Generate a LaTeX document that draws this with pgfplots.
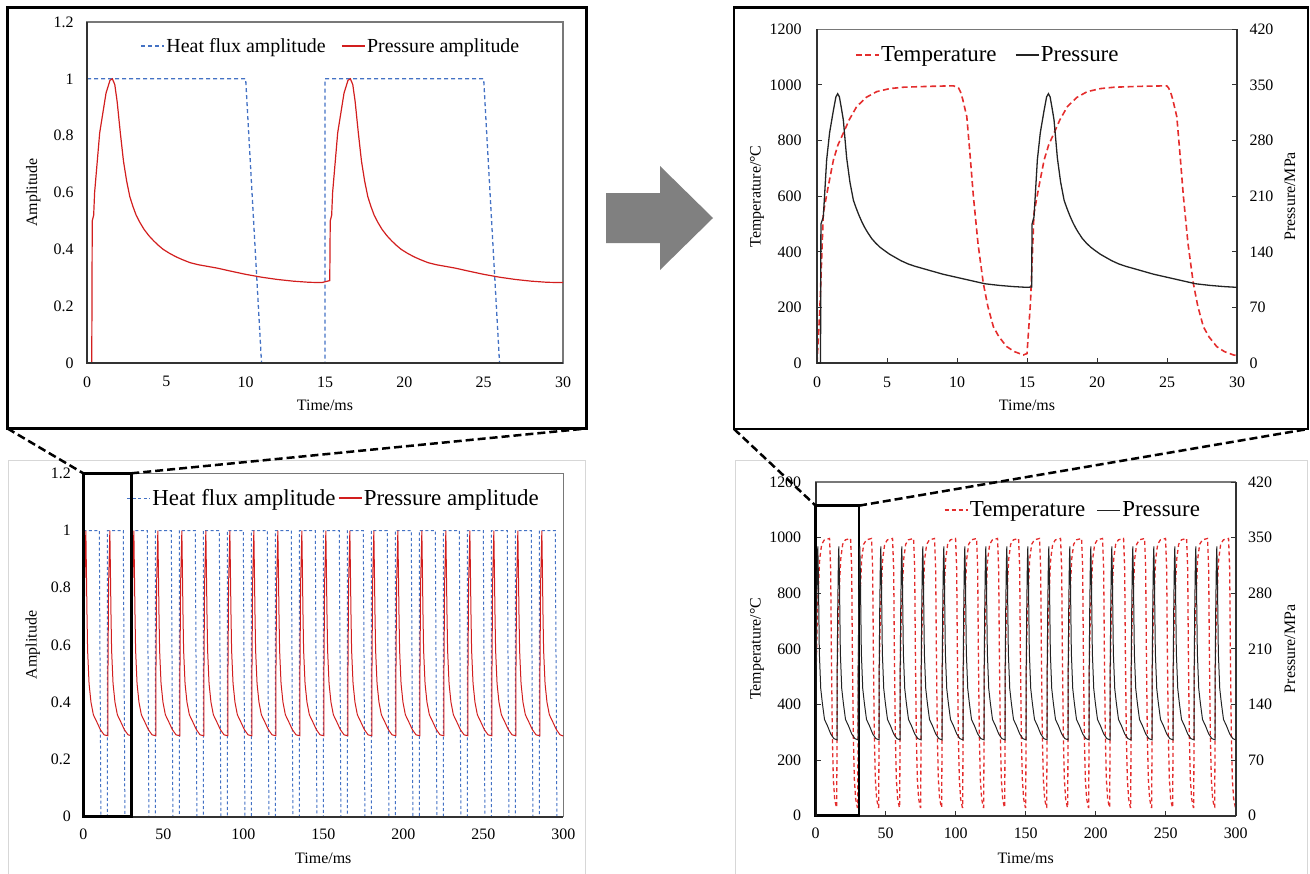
\documentclass[border=0pt]{standalone}
\usepackage{pgfplots}
\pgfplotsset{compat=1.18}
\usepackage{fontspec}
\setmainfont{Liberation Serif}
\definecolor{hfblue}{RGB}{68,114,196}
\definecolor{pred}{RGB}{210,30,30}
\definecolor{tred}{RGB}{228,45,45}
\definecolor{pblack}{RGB}{35,35,35}
\definecolor{framegray}{RGB}{120,120,120}
\definecolor{darkframe}{RGB}{50,50,50}
\definecolor{arrowgray}{RGB}{128,128,128}
\definecolor{panelgray}{RGB}{215,215,215}
\pgfplotsset{
  panel/.style={
    scale only axis,
    anchor=south west,
    clip=false,
    /pgf/number format/assume math mode=true,
    /pgf/number format/1000 sep={},
    tick label style={font=\fontsize{16}{19}\selectfont, text=black},
    label style={font=\fontsize{16}{19}\selectfont},
    axis line style={framegray, line width=1.5bp},
    legend cell align=left,
    legend image code/.code={\draw[##1] (0bp,0bp) -- (23bp,0bp);},
  },
}
\begin{document}
\begin{tikzpicture}
\useasboundingbox (0,0) rectangle (1310bp,-874bp);
% panel frames
\draw[panelgray, line width=1bp] (8.5bp,-460.5bp) rectangle (585bp,-885bp);
\draw[panelgray, line width=1bp] (735.5bp,-460.5bp) rectangle (1307.5bp,-885bp);
\draw[black, line width=2.5bp] (7.5bp,-7.5bp) rectangle (586.5bp,-428.5bp);
\draw[black, line width=2.5bp] (734bp,-7.5bp) rectangle (1308bp,-429bp);
% arrow
\fill[arrowgray] (606bp,-193bp) -- (660bp,-193bp) -- (660bp,-166bp) -- (713bp,-218bp) -- (660bp,-270bp) -- (660bp,-243bp) -- (606bp,-243bp) -- cycle;

%================ top left ================
\begin{axis}[panel, at={(87bp,-363bp)}, width=476bp, height=341bp,
  xmin=0, xmax=30, ymin=0, ymax=1.2,
  xtick={0,5,10,15,20,25,30}, ytick={0,0.2,0.4,0.6,0.8,1,1.2},
  major tick length=0pt,
  xticklabel style={yshift=-10bp}, yticklabel style={xshift=-10bp},
  xlabel={Time/ms}, ylabel={Amplitude},
  xlabel style={at={(axis description cs:0.5,-0.123)}, anchor=center},
  ylabel style={at={(axis description cs:-0.113,0.5)}, anchor=center},
  legend style={draw=none, fill=none, legend columns=2, at={(0.106,0.93)}, anchor=west,
    font=\fontsize{20}{24}\selectfont, nodes={inner sep=1.5bp},
    /tikz/every even column/.append style={column sep=14bp}},
]
\addlegendimage{hfblue, line width=1.3bp, dash pattern=on 4bp off 3bp}
\addlegendentry{Heat flux amplitude}
\addlegendimage{pred, line width=1.3bp}
\addlegendentry{Pressure amplitude}
\addplot[forget plot, hfblue, line width=1.3bp, dash pattern=on 4bp off 3bp] coordinates {
(0,1) (10,1) (11,0) (15,0) (15,1) (25,1) (26,0) (30,0)};
\addplot[forget plot, pred, line width=1.2bp] coordinates {
(0,0) (0.3,0) (0.33,0.5) (0.42,0.52) (0.48,0.6) (0.8,0.81) (1.2,0.95) (1.45,0.995) (1.6,1.0) (1.75,0.98) (1.9,0.92) (2.1,0.81) (2.3,0.71) (2.5,0.64) (2.7,0.585) (2.9,0.55) (3.1,0.52) (3.35,0.493) (3.6,0.47) (3.9,0.448) (4.2,0.43) (4.5,0.414) (4.8,0.40) (5.2,0.386) (5.6,0.374) (6.0,0.364) (6.5,0.353) (7.0,0.346) (7.6,0.34) (8.2,0.334) (9.0,0.324) (10.0,0.312) (11.0,0.302) (12.0,0.294) (13.0,0.288) (14.0,0.284) (14.8,0.283)
(15.3,0.29) (15.33,0.5) (15.42,0.52) (15.48,0.6) (15.8,0.81) (16.2,0.95) (16.45,0.995) (16.6,1.0) (16.75,0.98) (16.9,0.92) (17.1,0.81) (17.3,0.71) (17.5,0.64) (17.7,0.585) (17.9,0.55) (18.1,0.52) (18.35,0.493) (18.6,0.47) (18.9,0.448) (19.2,0.43) (19.5,0.414) (19.8,0.40) (20.2,0.386) (20.6,0.374) (21.0,0.364) (21.5,0.353) (22.0,0.346) (22.6,0.34) (23.2,0.334) (24.0,0.324) (25.0,0.312) (26.0,0.302) (27.0,0.294) (28.0,0.288) (29.0,0.284) (30,0.283)};
\draw[darkframe, line width=2bp] (rel axis cs:0,1) -- (rel axis cs:0,0) -- (rel axis cs:1,0);
\end{axis}

%================ top right ================
\begin{axis}[panel, at={(817bp,-363.3bp)}, width=420bp, height=334bp,
  xmin=0, xmax=30, ymin=0, ymax=1200,
  xtick={0,5,10,15,20,25,30}, ytick={0,200,400,600,800,1000,1200},
  tick pos=left, tick align=inside, major tick length=5bp, tick style={darkframe, line width=1bp},
  xticklabel style={yshift=-10bp}, yticklabel style={xshift=-12bp},
  xlabel={Time/ms}, ylabel={Temperature/°C},
  xlabel style={at={(axis description cs:0.5,-0.125)}, anchor=center},
  ylabel style={at={(axis description cs:-0.143,0.5)}, anchor=center},
]
\addplot[tred, line width=1.6bp, dash pattern=on 6bp off 3.5bp] coordinates {
(0,0) (0.2,192) (0.45,539) (0.8,635) (1.17,730) (1.5,785) (1.88,827) (2.3,875) (2.83,922) (3.5,955) (4.26,976) (5.2,987) (6.2,992) (8,995) (9.74,997) (10.1,990) (10.25,975) (10.4,950) (10.7,886) (10.93,750) (11.17,600) (11.5,430) (11.88,287) (12.2,205) (12.6,131) (13.0,95) (13.55,60) (14.1,42) (14.74,30)
(15.0,35) (15.25,220) (15.5,539) (15.85,635) (16.22,730) (16.55,785) (16.93,827) (17.35,875) (17.88,922) (18.55,955) (19.3,976) (20.25,987) (21.25,992) (23,995) (24.98,997) (25.1,990) (25.25,975) (25.4,950) (25.7,886) (25.93,750) (26.17,600) (26.5,430) (26.88,287) (27.2,205) (27.6,131) (28.0,95) (28.55,60) (29.1,42) (29.75,30) (30,28)};
\draw[darkframe, line width=2bp] (rel axis cs:0,1) -- (rel axis cs:0,0) -- (rel axis cs:1,0);
\end{axis}
\begin{axis}[panel, at={(817bp,-363.3bp)}, width=420bp, height=334bp,
  xmin=0, xmax=30, ymin=0, ymax=420,
  axis x line=none, axis y line*=right,
  y axis line style={darkframe, line width=2bp},
  ytick={0,70,140,210,280,350,420},
  tick align=inside, major tick length=5bp, tick style={darkframe, line width=1bp},
  yticklabel style={xshift=9bp},
  ylabel={Pressure/MPa},
  ylabel style={at={(axis description cs:1.126,0.5)}, anchor=center},
  legend style={draw=none, fill=none, legend columns=2, at={(0.083,0.923)}, anchor=west,
    font=\fontsize{23}{27}\selectfont, nodes={inner sep=1.5bp},
    /tikz/every even column/.append style={column sep=17bp}},
]
\addlegendimage{tred, line width=1.6bp, dash pattern=on 6bp off 3.5bp}
\addlegendentry{Temperature}
\addplot[pblack, line width=1.3bp] coordinates {
(0,0) (0.25,0) (0.28,175) (0.45,184) (0.69,256) (0.9,290) (1.17,318) (1.35,335) (1.48,339) (1.6,335) (1.75,320) (1.88,306) (2.0,282) (2.12,258) (2.35,228) (2.6,205) (2.8,195) (3.0,186) (3.2,178) (3.4,171) (3.6,165) (3.9,157) (4.2,151) (4.5,146) (4.8,142) (5.2,137) (5.6,133) (6.0,129) (6.5,125) (7.0,122) (7.6,119) (8.2,116) (9.0,112) (10,108) (11,104) (12,100) (13,98) (14,96.5) (15,95.5) (15.33,96)
(15.36,175) (15.5,184) (15.74,256) (15.95,290) (16.22,318) (16.4,335) (16.53,339) (16.65,335) (16.8,320) (16.93,306) (17.05,282) (17.17,258) (17.4,228) (17.65,205) (17.85,195) (18.05,186) (18.25,178) (18.45,171) (18.65,165) (18.95,157) (19.25,151) (19.55,146) (19.85,142) (20.25,137) (20.65,133) (21.05,129) (21.55,125) (22.05,122) (22.65,119) (23.25,116) (24.05,112) (25.05,108) (26.05,104) (27.05,100) (28.05,98) (29.05,96.5) (30,95.5)};
\addlegendentry{Pressure}
\end{axis}

%================ bottom left ================
\begin{axis}[panel, at={(83.3bp,-816.7bp)}, width=480bp, height=343.4bp,
  xmin=0, xmax=300, ymin=0, ymax=1.2,
  xtick={0,50,100,150,200,250,300}, ytick={0,0.2,0.4,0.6,0.8,1,1.2},
  major tick length=0pt,
  xticklabel style={yshift=-9bp}, yticklabel style={xshift=-9bp},
  xlabel={Time/ms}, ylabel={Amplitude},
  xlabel style={at={(axis description cs:0.5,-0.12)}, anchor=center},
  ylabel style={at={(axis description cs:-0.105,0.5)}, anchor=center},
  legend style={draw=none, fill=none, legend columns=2, at={(0.084,0.928)}, anchor=west,
    font=\fontsize{23}{27}\selectfont, nodes={inner sep=1.5bp},
    /tikz/every even column/.append style={column sep=1bp}},
]
\addlegendimage{hfblue, line width=1bp, dash pattern=on 3bp off 2.5bp}
\addlegendentry{Heat flux amplitude}
\addlegendimage{pred, line width=1.2bp}
\addlegendentry{Pressure amplitude}
\addplot[forget plot, hfblue, line width=1bp, dash pattern=on 3bp off 2.5bp] coordinates {
(0,1) (10,1) (11,0) (15,0) (15,1) (25,1) (26,0) (30,0) (30,1) (40,1) (41,0) (45,0) (45,1) (55,1) (56,0) (60,0) (60,1) (70,1) (71,0) (75,0) (75,1) (85,1) (86,0) (90,0) (90,1) (100,1) (101,0) (105,0) (105,1) (115,1) (116,0) (120,0) (120,1) (130,1) (131,0) (135,0) (135,1) (145,1) (146,0) (150,0) (150,1) (160,1) (161,0) (165,0) (165,1) (175,1) (176,0) (180,0) (180,1) (190,1) (191,0) (195,0) (195,1) (205,1) (206,0) (210,0) (210,1) (220,1) (221,0) (225,0) (225,1) (235,1) (236,0) (240,0) (240,1) (250,1) (251,0) (255,0) (255,1) (265,1) (266,0) (270,0) (270,1) (280,1) (281,0) (285,0) (285,1) (295,1) (296,0) (300,0)};
\addplot[forget plot, pred, line width=1bp] coordinates {
(0,0) (0.35,0) (0.4,0.5) (0.8,0.81) (1.6,1) (2.3,0.71) (2.7,0.58) (3.6,0.465) (4.8,0.4) (6.3,0.356) (8.2,0.334) (10.7,0.304) (13,0.286)
(15.35,0.283) (15.4,0.5) (15.8,0.81) (16.6,1) (17.3,0.71) (17.7,0.58) (18.6,0.465) (19.8,0.4) (21.3,0.356) (23.2,0.334) (25.7,0.304) (28,0.286)
(30.35,0.283) (30.4,0.5) (30.8,0.81) (31.6,1) (32.3,0.71) (32.7,0.58) (33.6,0.465) (34.8,0.4) (36.3,0.356) (38.2,0.334) (40.7,0.304) (43,0.286)
(45.35,0.283) (45.4,0.5) (45.8,0.81) (46.6,1) (47.3,0.71) (47.7,0.58) (48.6,0.465) (49.8,0.4) (51.3,0.356) (53.2,0.334) (55.7,0.304) (58,0.286)
(60.35,0.283) (60.4,0.5) (60.8,0.81) (61.6,1) (62.3,0.71) (62.7,0.58) (63.6,0.465) (64.8,0.4) (66.3,0.356) (68.2,0.334) (70.7,0.304) (73,0.286)
(75.35,0.283) (75.4,0.5) (75.8,0.81) (76.6,1) (77.3,0.71) (77.7,0.58) (78.6,0.465) (79.8,0.4) (81.3,0.356) (83.2,0.334) (85.7,0.304) (88,0.286)
(90.35,0.283) (90.4,0.5) (90.8,0.81) (91.6,1) (92.3,0.71) (92.7,0.58) (93.6,0.465) (94.8,0.4) (96.3,0.356) (98.2,0.334) (100.7,0.304) (103,0.286)
(105.35,0.283) (105.4,0.5) (105.8,0.81) (106.6,1) (107.3,0.71) (107.7,0.58) (108.6,0.465) (109.8,0.4) (111.3,0.356) (113.2,0.334) (115.7,0.304) (118,0.286)
(120.35,0.283) (120.4,0.5) (120.8,0.81) (121.6,1) (122.3,0.71) (122.7,0.58) (123.6,0.465) (124.8,0.4) (126.3,0.356) (128.2,0.334) (130.7,0.304) (133,0.286)
(135.35,0.283) (135.4,0.5) (135.8,0.81) (136.6,1) (137.3,0.71) (137.7,0.58) (138.6,0.465) (139.8,0.4) (141.3,0.356) (143.2,0.334) (145.7,0.304) (148,0.286)
(150.35,0.283) (150.4,0.5) (150.8,0.81) (151.6,1) (152.3,0.71) (152.7,0.58) (153.6,0.465) (154.8,0.4) (156.3,0.356) (158.2,0.334) (160.7,0.304) (163,0.286)
(165.35,0.283) (165.4,0.5) (165.8,0.81) (166.6,1) (167.3,0.71) (167.7,0.58) (168.6,0.465) (169.8,0.4) (171.3,0.356) (173.2,0.334) (175.7,0.304) (178,0.286)
(180.35,0.283) (180.4,0.5) (180.8,0.81) (181.6,1) (182.3,0.71) (182.7,0.58) (183.6,0.465) (184.8,0.4) (186.3,0.356) (188.2,0.334) (190.7,0.304) (193,0.286)
(195.35,0.283) (195.4,0.5) (195.8,0.81) (196.6,1) (197.3,0.71) (197.7,0.58) (198.6,0.465) (199.8,0.4) (201.3,0.356) (203.2,0.334) (205.7,0.304) (208,0.286)
(210.35,0.283) (210.4,0.5) (210.8,0.81) (211.6,1) (212.3,0.71) (212.7,0.58) (213.6,0.465) (214.8,0.4) (216.3,0.356) (218.2,0.334) (220.7,0.304) (223,0.286)
(225.35,0.283) (225.4,0.5) (225.8,0.81) (226.6,1) (227.3,0.71) (227.7,0.58) (228.6,0.465) (229.8,0.4) (231.3,0.356) (233.2,0.334) (235.7,0.304) (238,0.286)
(240.35,0.283) (240.4,0.5) (240.8,0.81) (241.6,1) (242.3,0.71) (242.7,0.58) (243.6,0.465) (244.8,0.4) (246.3,0.356) (248.2,0.334) (250.7,0.304) (253,0.286)
(255.35,0.283) (255.4,0.5) (255.8,0.81) (256.6,1) (257.3,0.71) (257.7,0.58) (258.6,0.465) (259.8,0.4) (261.3,0.356) (263.2,0.334) (265.7,0.304) (268,0.286)
(270.35,0.283) (270.4,0.5) (270.8,0.81) (271.6,1) (272.3,0.71) (272.7,0.58) (273.6,0.465) (274.8,0.4) (276.3,0.356) (278.2,0.334) (280.7,0.304) (283,0.286)
(285.35,0.283) (285.4,0.5) (285.8,0.81) (286.6,1) (287.3,0.71) (287.7,0.58) (288.6,0.465) (289.8,0.4) (291.3,0.356) (293.2,0.334) (295.7,0.304) (298,0.286) (300,0.282)};
\draw[darkframe, line width=2bp] (rel axis cs:0,0) -- (rel axis cs:1,0);
\draw[black, line width=2.5bp] (axis cs:0,0) rectangle (axis cs:30,1.2);
\coordinate (LA) at (axis cs:0,1.2);
\coordinate (LB) at (axis cs:30,1.2);
\end{axis}

%================ bottom right ================
\begin{axis}[panel, at={(815.7bp,-815.7bp)}, width=420bp, height=333.7bp,
  xmin=0, xmax=300, ymin=0, ymax=1200,
  xtick={0,50,100,150,200,250,300}, ytick={0,200,400,600,800,1000,1200},
  tick pos=left, tick align=inside, major tick length=5bp, tick style={darkframe, line width=1bp},
  xticklabel style={yshift=-9bp}, yticklabel style={xshift=-11bp},
  xlabel={Time/ms}, ylabel={Temperature/°C},
  xlabel style={at={(axis description cs:0.5,-0.127)}, anchor=center},
  ylabel style={at={(axis description cs:-0.14,0.5)}, anchor=center},
]
\addplot[tred, line width=1.3bp, dash pattern=on 4bp off 3bp] coordinates {
(0,0) (0.45,539) (1.17,730) (2.83,922) (4.26,976) (6.2,992) (9.9,997) (10.7,886) (11.17,600) (11.88,287) (12.6,131) (13.55,60) (14.74,30)
(15,30) (15.45,539) (16.17,730) (17.83,922) (19.26,976) (21.2,992) (24.9,997) (25.7,886) (26.17,600) (26.88,287) (27.6,131) (28.55,60) (29.74,30)
(30,30) (30.45,539) (31.17,730) (32.83,922) (34.26,976) (36.2,992) (39.9,997) (40.7,886) (41.17,600) (41.88,287) (42.6,131) (43.55,60) (44.74,30)
(45,30) (45.45,539) (46.17,730) (47.83,922) (49.26,976) (51.2,992) (54.9,997) (55.7,886) (56.17,600) (56.88,287) (57.6,131) (58.55,60) (59.74,30)
(60,30) (60.45,539) (61.17,730) (62.83,922) (64.26,976) (66.2,992) (69.9,997) (70.7,886) (71.17,600) (71.88,287) (72.6,131) (73.55,60) (74.74,30)
(75,30) (75.45,539) (76.17,730) (77.83,922) (79.26,976) (81.2,992) (84.9,997) (85.7,886) (86.17,600) (86.88,287) (87.6,131) (88.55,60) (89.74,30)
(90,30) (90.45,539) (91.17,730) (92.83,922) (94.26,976) (96.2,992) (99.9,997) (100.7,886) (101.17,600) (101.88,287) (102.6,131) (103.55,60) (104.74,30)
(105,30) (105.45,539) (106.17,730) (107.83,922) (109.26,976) (111.2,992) (114.9,997) (115.7,886) (116.17,600) (116.88,287) (117.6,131) (118.55,60) (119.74,30)
(120,30) (120.45,539) (121.17,730) (122.83,922) (124.26,976) (126.2,992) (129.9,997) (130.7,886) (131.17,600) (131.88,287) (132.6,131) (133.55,60) (134.74,30)
(135,30) (135.45,539) (136.17,730) (137.83,922) (139.26,976) (141.2,992) (144.9,997) (145.7,886) (146.17,600) (146.88,287) (147.6,131) (148.55,60) (149.74,30)
(150,30) (150.45,539) (151.17,730) (152.83,922) (154.26,976) (156.2,992) (159.9,997) (160.7,886) (161.17,600) (161.88,287) (162.6,131) (163.55,60) (164.74,30)
(165,30) (165.45,539) (166.17,730) (167.83,922) (169.26,976) (171.2,992) (174.9,997) (175.7,886) (176.17,600) (176.88,287) (177.6,131) (178.55,60) (179.74,30)
(180,30) (180.45,539) (181.17,730) (182.83,922) (184.26,976) (186.2,992) (189.9,997) (190.7,886) (191.17,600) (191.88,287) (192.6,131) (193.55,60) (194.74,30)
(195,30) (195.45,539) (196.17,730) (197.83,922) (199.26,976) (201.2,992) (204.9,997) (205.7,886) (206.17,600) (206.88,287) (207.6,131) (208.55,60) (209.74,30)
(210,30) (210.45,539) (211.17,730) (212.83,922) (214.26,976) (216.2,992) (219.9,997) (220.7,886) (221.17,600) (221.88,287) (222.6,131) (223.55,60) (224.74,30)
(225,30) (225.45,539) (226.17,730) (227.83,922) (229.26,976) (231.2,992) (234.9,997) (235.7,886) (236.17,600) (236.88,287) (237.6,131) (238.55,60) (239.74,30)
(240,30) (240.45,539) (241.17,730) (242.83,922) (244.26,976) (246.2,992) (249.9,997) (250.7,886) (251.17,600) (251.88,287) (252.6,131) (253.55,60) (254.74,30)
(255,30) (255.45,539) (256.17,730) (257.83,922) (259.26,976) (261.2,992) (264.9,997) (265.7,886) (266.17,600) (266.88,287) (267.6,131) (268.55,60) (269.74,30)
(270,30) (270.45,539) (271.17,730) (272.83,922) (274.26,976) (276.2,992) (279.9,997) (280.7,886) (281.17,600) (281.88,287) (282.6,131) (283.55,60) (284.74,30)
(285,30) (285.45,539) (286.17,730) (287.83,922) (289.26,976) (291.2,992) (294.9,997) (295.7,886) (296.17,600) (296.88,287) (297.6,131) (298.55,60) (299.74,30) (300,30)};
\draw[darkframe, line width=2bp] (rel axis cs:0,1) -- (rel axis cs:0,0) -- (rel axis cs:1,0);
\draw[black, line width=2.5bp] (axis cs:0,0) rectangle (axis cs:31,1115);
\coordinate (RA) at (axis cs:0,1115);
\coordinate (RB) at (axis cs:31,1115);
\end{axis}
\begin{axis}[panel, at={(815.7bp,-815.7bp)}, width=420bp, height=333.7bp,
  xmin=0, xmax=300, ymin=0, ymax=420,
  axis x line=none, axis y line*=right,
  y axis line style={darkframe, line width=2bp},
  ytick={0,70,140,210,280,350,420},
  tick align=inside, major tick length=5bp, tick style={darkframe, line width=1bp},
  yticklabel style={xshift=9bp},
  ylabel={Pressure/MPa},
  ylabel style={at={(axis description cs:1.129,0.5)}, anchor=center},
  legend style={draw=none, fill=none, legend columns=2, at={(0.298,0.916)}, anchor=west,
    font=\fontsize{23}{27}\selectfont, nodes={inner sep=1.5bp},
    /tikz/every even column/.append style={column sep=10bp}},
]
\addlegendimage{tred, line width=1.3bp, dash pattern=on 4bp off 3bp}
\addlegendentry{Temperature}
\addplot[pblack, line width=1bp] coordinates {
(0,0) (0.3,0) (0.33,178) (0.7,256) (1.17,318) (1.5,339) (1.88,306) (2.6,205) (3.6,160) (4.8,141) (6.3,121) (8.2,114) (10.7,103) (13,97)
(15.3,95.5) (15.33,178) (15.7,256) (16.17,318) (16.5,339) (16.88,306) (17.6,205) (18.6,160) (19.8,141) (21.3,121) (23.2,114) (25.7,103) (28,97)
(30.3,95.5) (30.33,178) (30.7,256) (31.17,318) (31.5,339) (31.88,306) (32.6,205) (33.6,160) (34.8,141) (36.3,121) (38.2,114) (40.7,103) (43,97)
(45.3,95.5) (45.33,178) (45.7,256) (46.17,318) (46.5,339) (46.88,306) (47.6,205) (48.6,160) (49.8,141) (51.3,121) (53.2,114) (55.7,103) (58,97)
(60.3,95.5) (60.33,178) (60.7,256) (61.17,318) (61.5,339) (61.88,306) (62.6,205) (63.6,160) (64.8,141) (66.3,121) (68.2,114) (70.7,103) (73,97)
(75.3,95.5) (75.33,178) (75.7,256) (76.17,318) (76.5,339) (76.88,306) (77.6,205) (78.6,160) (79.8,141) (81.3,121) (83.2,114) (85.7,103) (88,97)
(90.3,95.5) (90.33,178) (90.7,256) (91.17,318) (91.5,339) (91.88,306) (92.6,205) (93.6,160) (94.8,141) (96.3,121) (98.2,114) (100.7,103) (103,97)
(105.3,95.5) (105.33,178) (105.7,256) (106.17,318) (106.5,339) (106.88,306) (107.6,205) (108.6,160) (109.8,141) (111.3,121) (113.2,114) (115.7,103) (118,97)
(120.3,95.5) (120.33,178) (120.7,256) (121.17,318) (121.5,339) (121.88,306) (122.6,205) (123.6,160) (124.8,141) (126.3,121) (128.2,114) (130.7,103) (133,97)
(135.3,95.5) (135.33,178) (135.7,256) (136.17,318) (136.5,339) (136.88,306) (137.6,205) (138.6,160) (139.8,141) (141.3,121) (143.2,114) (145.7,103) (148,97)
(150.3,95.5) (150.33,178) (150.7,256) (151.17,318) (151.5,339) (151.88,306) (152.6,205) (153.6,160) (154.8,141) (156.3,121) (158.2,114) (160.7,103) (163,97)
(165.3,95.5) (165.33,178) (165.7,256) (166.17,318) (166.5,339) (166.88,306) (167.6,205) (168.6,160) (169.8,141) (171.3,121) (173.2,114) (175.7,103) (178,97)
(180.3,95.5) (180.33,178) (180.7,256) (181.17,318) (181.5,339) (181.88,306) (182.6,205) (183.6,160) (184.8,141) (186.3,121) (188.2,114) (190.7,103) (193,97)
(195.3,95.5) (195.33,178) (195.7,256) (196.17,318) (196.5,339) (196.88,306) (197.6,205) (198.6,160) (199.8,141) (201.3,121) (203.2,114) (205.7,103) (208,97)
(210.3,95.5) (210.33,178) (210.7,256) (211.17,318) (211.5,339) (211.88,306) (212.6,205) (213.6,160) (214.8,141) (216.3,121) (218.2,114) (220.7,103) (223,97)
(225.3,95.5) (225.33,178) (225.7,256) (226.17,318) (226.5,339) (226.88,306) (227.6,205) (228.6,160) (229.8,141) (231.3,121) (233.2,114) (235.7,103) (238,97)
(240.3,95.5) (240.33,178) (240.7,256) (241.17,318) (241.5,339) (241.88,306) (242.6,205) (243.6,160) (244.8,141) (246.3,121) (248.2,114) (250.7,103) (253,97)
(255.3,95.5) (255.33,178) (255.7,256) (256.17,318) (256.5,339) (256.88,306) (257.6,205) (258.6,160) (259.8,141) (261.3,121) (263.2,114) (265.7,103) (268,97)
(270.3,95.5) (270.33,178) (270.7,256) (271.17,318) (271.5,339) (271.88,306) (272.6,205) (273.6,160) (274.8,141) (276.3,121) (278.2,114) (280.7,103) (283,97)
(285.3,95.5) (285.33,178) (285.7,256) (286.17,318) (286.5,339) (286.88,306) (287.6,205) (288.6,160) (289.8,141) (291.3,121) (293.2,114) (295.7,103) (298,97) (300,95.5)};
\addlegendentry{Pressure}
\end{axis}

% zoom connectors
\draw[black, line width=2.5bp, dash pattern=on 8bp off 4bp] (7.5bp,-428.5bp) -- (LA);
\draw[black, line width=2.5bp, dash pattern=on 8bp off 4bp] (LB) -- (586.5bp,-428.5bp);
\draw[black, line width=2.5bp, dash pattern=on 8bp off 4bp] (734bp,-429bp) -- (RA);
\draw[black, line width=2.5bp, dash pattern=on 8bp off 4bp] (RB) -- (1308bp,-429bp);
\end{tikzpicture}
\end{document}
